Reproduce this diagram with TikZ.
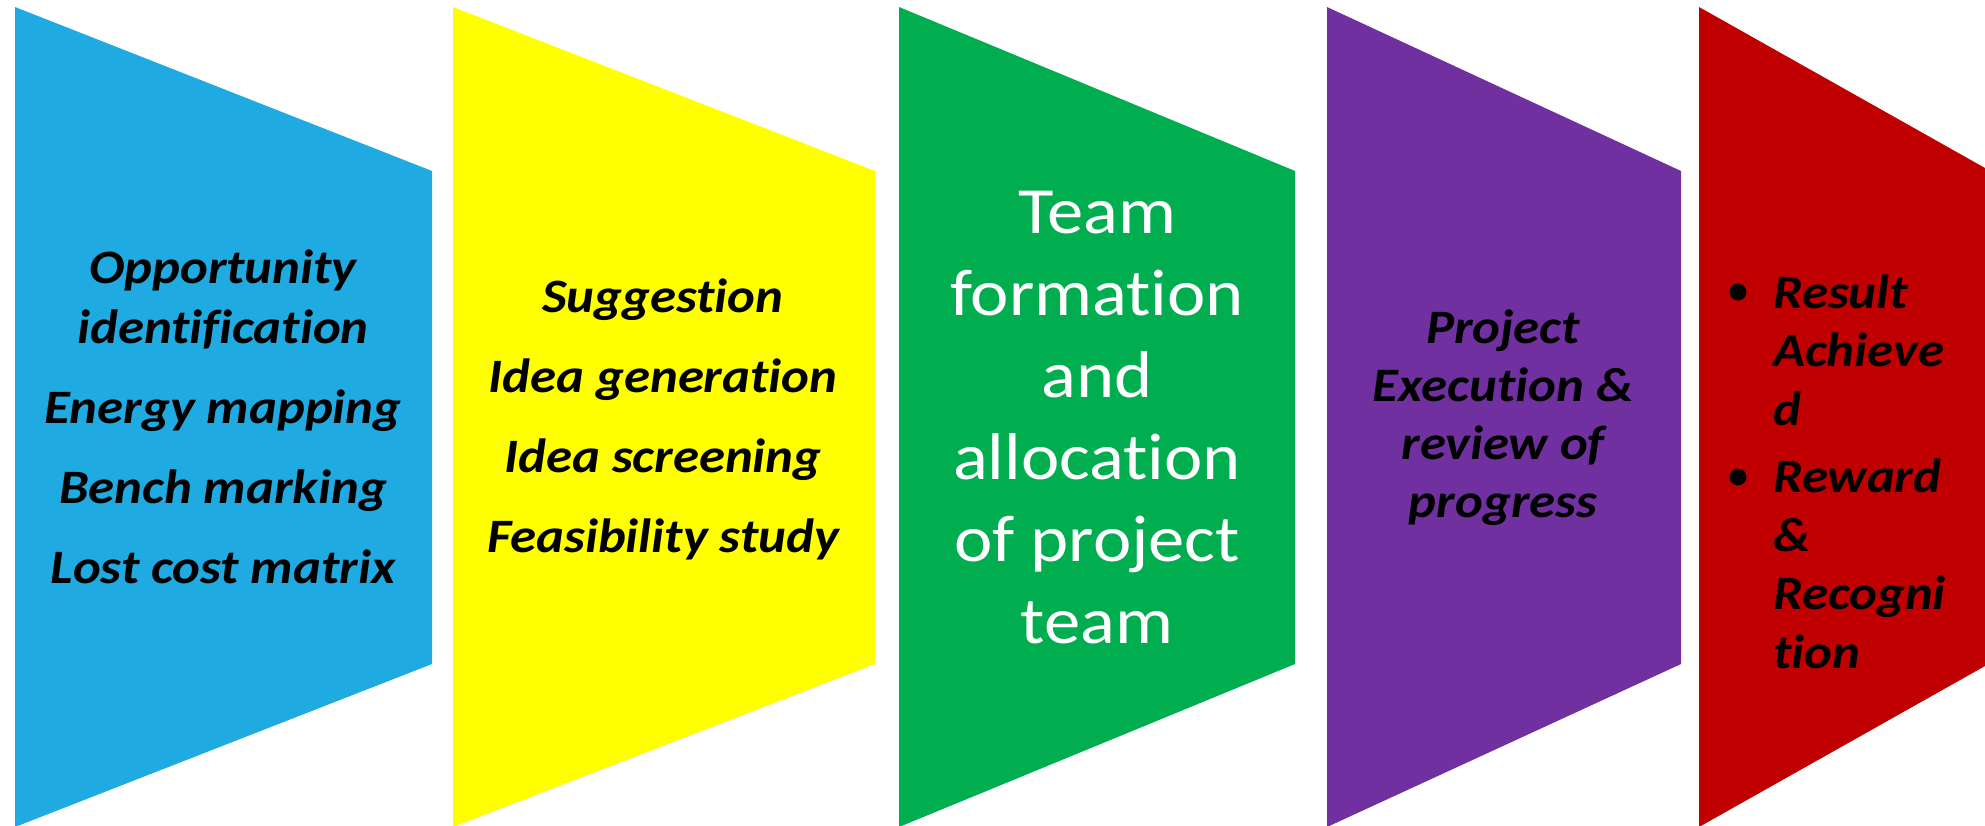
\documentclass[tikz,border=0pt]{standalone}
\usepackage{fontspec}
\setmainfont{Carlito}[Ligatures=NoCommon, FakeStretch=1.1]
\definecolor{stageblue}{HTML}{1FABE2}
\definecolor{stageyellow}{HTML}{FFFF00}
\definecolor{stagegreen}{HTML}{00AE4F}
\definecolor{stagepurple}{HTML}{7030A0}
\definecolor{stagered}{HTML}{C00000}
\begin{document}
\begin{tikzpicture}[x=1pt,y=-1pt,
  darktext/.style={font=\fontsize{48}{60}\selectfont\bfseries\itshape, text=black,
    align=center, inner sep=0pt, anchor=base},
  lighttext/.style={font=\fontsize{66}{82}\selectfont, text=white,
    align=center, inner sep=0pt, anchor=base},
  listtext/.style={font=\fontsize{48}{58.5}\selectfont\bfseries\itshape, text=black,
    align=left, inner sep=0pt, anchor=base west},
  dot/.style={fill=black}]
\useasboundingbox (0,0) rectangle (1985,825);

% the five stage panels, each a chevron-like trapezoid
\fill[stageblue]   (15,7)   -- (432,171)  -- (432,664)  -- (15,827)   -- cycle;
\fill[stageyellow] (453,7)  -- (875,171)  -- (875,664)  -- (453,827)  -- cycle;
\fill[stagegreen]  (899,7)  -- (1295,171) -- (1295,664) -- (899,827)  -- cycle;
\fill[stagepurple] (1327,7) -- (1681,171) -- (1681,664) -- (1327,827) -- cycle;
\fill[stagered]    (1699,7) -- (1985,168) -- (1985,666) -- (1699,827) -- cycle;

% stage texts (each node sits on the baseline of its last line)
\node[darktext] (s1) at (223,583)
  {Opportunity\\identification\\[20pt]Energy mapping\\[20pt]Bench marking\\[20pt]Lost cost matrix};
\node[darktext] (s2) at (663,552)
  {Suggestion\\[20pt]Idea generation\\[20pt]Idea screening\\[20pt]Feasibility study};
\node[lighttext] (s3) at (1097,643)
  {Team\\formation\\and\\allocation\\of project\\team};
\node[darktext, font=\fontsize{48}{58}\selectfont\bfseries\itshape] (s4) at (1503,517)
  {Project\\Execution \&\\review of\\progress};
\node[listtext] (s5a) at (1773,425) {Result\\Achieve\\d};
\node[listtext] (s5b) at (1773,668) {Reward\\\&\\Recogni\\tion};

% list bullets
\fill[dot] (1738,292) circle (8.5);
\fill[dot] (1738,477) circle (8.5);
\end{tikzpicture}
\end{document}
